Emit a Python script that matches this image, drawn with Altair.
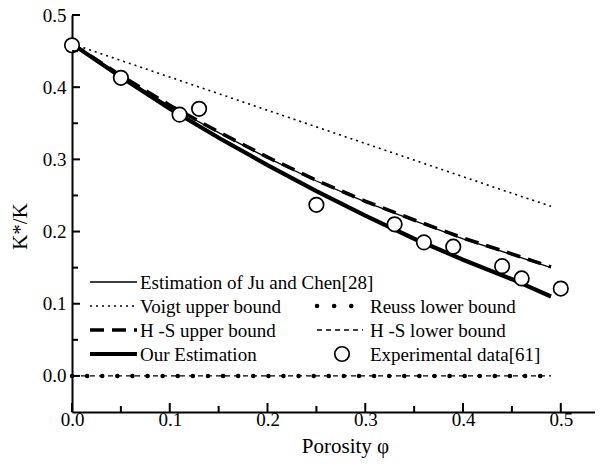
import altair as alt
import pandas as pd

# ---- data ----
phi = [0.0, 0.05, 0.10, 0.15, 0.20, 0.25, 0.30, 0.35, 0.40, 0.45, 0.49]
our_estimation = [0.460, 0.414, 0.370, 0.330, 0.292, 0.256, 0.222, 0.190, 0.161, 0.134, 0.110]
hs_upper = [0.460, 0.416, 0.375, 0.338, 0.303, 0.271, 0.242, 0.216, 0.191, 0.169, 0.151]
ju_chen = [0.460, 0.415, 0.374, 0.337, 0.302, 0.270, 0.241, 0.215, 0.190, 0.168, 0.150]
voigt = [0.460, 0.437, 0.414, 0.391, 0.368, 0.345, 0.322, 0.299, 0.276, 0.253, 0.235]
reuss = [0.0, 0.0, 0.0, 0.0, 0.0, 0.0, 0.0, 0.0, 0.0, 0.0, 0.0]
hs_lower = [0.0, 0.0, 0.0, 0.0, 0.0, 0.0, 0.0, 0.0, 0.0, 0.0, 0.0]

exp_phi = [0.0, 0.05, 0.11, 0.13, 0.25, 0.33, 0.36, 0.39, 0.44, 0.46, 0.50]
exp_val = [0.458, 0.413, 0.362, 0.370, 0.237, 0.210, 0.185, 0.179, 0.152, 0.135, 0.121]

x_major = [0.0, 0.1, 0.2, 0.3, 0.4, 0.5]
x_minor = [0.05, 0.15, 0.25, 0.35, 0.45]
y_major = [0.0, 0.1, 0.2, 0.3, 0.4, 0.5]
y_minor = [0.05, 0.15, 0.25, 0.35, 0.45]

labels = {
    "ju": "Estimation of Ju and Chen[28]",
    "voigt": "Voigt upper bound",
    "hsu": "H -S upper bound",
    "our": "Our Estimation",
    "reuss": "Reuss lower bound",
    "hsl": "H -S lower bound",
    "exp": "Experimental data[61]",
}

FONT = "'Liberation Serif', 'Times New Roman', Times, serif"
W, H = 523, 397

xscale = alt.Scale(domain=[0, 0.535], nice=False, zero=False)
yscale = alt.Scale(domain=[-0.05, 0.5], nice=False, zero=False)
xaxis = alt.Axis(values=x_major, format=".1f", title="Porosity \u03c6", ticks=False, tickSize=0,
                 grid=False, labelFlush=False, labelPadding=-2, titleX=273, titleY=40,
                 titleBaseline="alphabetic", titleAlign="center")
yaxis = alt.Axis(values=y_major, format=".1f", title="K*/K", ticks=False, tickSize=0,
                 grid=False, labelFlush=False, labelPadding=6, titleX=-52, titleY=211,
                 titleBaseline="middle", titleAlign="center", titleAngle=270)


def X(field):
    return alt.X(field, type="quantitative", scale=xscale, axis=xaxis)


def Y(field):
    return alt.Y(field, type="quantitative", scale=yscale, axis=yaxis)


styles = {
    "voigt": dict(strokeWidth=1.6, strokeDash=[2, 4]),
    "reuss": dict(strokeWidth=4.5, strokeDash=[0.1, 15], strokeCap="round"),
    "hsl": dict(strokeWidth=1.3, strokeDash=[5, 4]),
    "hsu": dict(strokeWidth=3.6, strokeDash=[14, 8]),
    "ju": dict(strokeWidth=1.3),
    "our": dict(strokeWidth=4.2),
}
series = {
    "voigt": voigt,
    "reuss": reuss,
    "hsl": hs_lower,
    "hsu": hs_upper,
    "ju": ju_chen,
    "our": our_estimation,
}

layers = []
for key, vals in series.items():
    df = pd.DataFrame({"phi": phi, "val": vals})
    layers.append(
        alt.Chart(df).mark_line(color="black", **styles[key]).encode(x=X("phi"), y=Y("val"))
    )

exp_df = pd.DataFrame({"phi": exp_phi, "val": exp_val})
layers.append(
    alt.Chart(exp_df).mark_point(shape="circle", filled=True, fill="white", stroke="black",
                                 strokeWidth=1.7, size=210, opacity=1)
    .encode(x=X("phi"), y=Y("val"))
)

# inward ticks
for vals, length in ((x_major, 9), (x_minor, 6)):
    layers.append(
        alt.Chart(pd.DataFrame({"v": vals})).mark_rule(color="black", strokeWidth=2)
        .encode(x=X("v"), y=alt.value(H), y2=alt.value(H - length))
    )
for vals, length in ((y_major, 8), (y_minor, 6)):
    layers.append(
        alt.Chart(pd.DataFrame({"v": vals})).mark_rule(color="black", strokeWidth=2)
        .encode(y=Y("v"), x=alt.value(0), x2=alt.value(length))
    )

# custom legend (two columns)
rows = [267, 291, 315, 339]
col1 = (18, 65, 68)
col2 = (245, 291, 298)
legend_items = [
    ("ju", col1, rows[0]),
    ("voigt", col1, rows[1]),
    ("hsu", col1, rows[2]),
    ("our", col1, rows[3]),
    ("reuss", col2, rows[1]),
    ("hsl", col2, rows[2]),
]
for key, (x0, x1, tx), ry in legend_items:
    st = dict(styles[key])
    if key == "reuss":
        st["strokeDash"] = [0.1, 17]
    layers.append(
        alt.Chart().mark_rule(color="black", **st)
        .encode(x=alt.value(x0), x2=alt.value(x1), y=alt.value(ry))
    )
    layers.append(
        alt.Chart().mark_text(text=labels[key], align="left", baseline="middle", font=FONT,
                              fontSize=19, color="black")
        .encode(x=alt.value(tx), y=alt.value(ry + 1))
    )
layers.append(
    alt.Chart().mark_point(shape="circle", filled=True, fill="white", stroke="black",
                           strokeWidth=1.7, size=210, opacity=1)
    .encode(x=alt.value(270), y=alt.value(rows[3]))
)
layers.append(
    alt.Chart().mark_text(text=labels["exp"], align="left", baseline="middle", font=FONT,
                          fontSize=19, color="black")
    .encode(x=alt.value(col2[2]), y=alt.value(rows[3] + 1))
)

chart = (
    alt.layer(*layers)
    .properties(width=W, height=H, padding={"left": 64, "top": 7, "right": 0, "bottom": 49},
                autosize=alt.AutoSizeParams(type="none"))
    .configure_view(stroke=None)
    .configure_axis(domainColor="black", domainWidth=2, labelFont=FONT, labelFontSize=19,
                    labelColor="black", titleFont=FONT, titleFontSize=21, titleColor="black",
                    titleFontWeight="normal")
)

chart.save("out.html", embed_options={"renderer": "svg", "actions": False})
